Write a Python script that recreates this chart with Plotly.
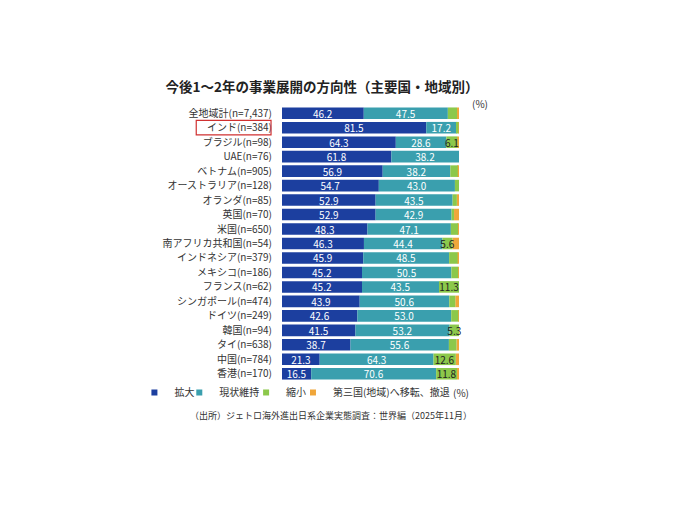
import plotly.graph_objects as go

categories = ["全地域計(n=7,437)", "インド(n=384)", "ブラジル(n=98)", "UAE(n=76)", "ベトナム(n=905)",
              "オーストラリア(n=128)", "オランダ(n=85)", "英国(n=70)", "米国(n=650)", "南アフリカ共和国(n=54)",
              "インドネシア(n=379)", "メキシコ(n=186)", "フランス(n=62)", "シンガポール(n=474)", "ドイツ(n=249)",
              "韓国(n=94)", "タイ(n=638)", "中国(n=784)", "香港(n=170)"]
expand = [46.2, 81.5, 64.3, 61.8, 56.9, 54.7, 52.9, 52.9, 48.3, 46.3, 45.9, 45.2, 45.2, 43.9, 42.6, 41.5, 38.7, 21.3, 16.5]
maintain = [47.5, 17.2, 28.6, 38.2, 38.2, 43.0, 43.5, 42.9, 47.1, 44.4, 48.5, 50.5, 43.5, 50.6, 53.0, 53.2, 55.6, 64.3, 70.6]
shrink = [5.2, 1.0, 6.1, 0.0, 4.2, 2.3, 2.4, 1.4, 4.0, 5.6, 4.8, 3.8, 11.3, 3.4, 4.0, 5.3, 4.3, 12.6, 11.8]
relocate = [1.1, 0.3, 1.0, 0.0, 0.7, 0.0, 1.2, 2.8, 0.6, 3.7, 0.8, 0.5, 0.0, 2.1, 0.4, 0.0, 1.4, 1.8, 1.1]
series_names = ["拡大", "現状維持", "縮小", "第三国(地域)へ移転、撤退"]
title_text = "今後1～2年の事業展開の方向性（主要国・地域別）"
source_text = "（出所）ジェトロ海外進出日系企業実態調査：世界編（2025年11月）"

colors = ["#1c3f9f", "#3a9fae", "#8cc84b", "#f0a63a"]
FONT = "Noto Sans CJK JP"
OFF = 8  # page body margin

W, H = 680, 510
L, R = 282 - OFF, 459.5 - OFF
T, B = 106 - OFF, 381.5 - OFF


def px(xr):
    return (xr - OFF - L) / (R - L)


def py(yr):
    return 1 - (yr - OFF - T) / (B - T)


def labels(vals, minv):
    return [f"{v:.1f}" if v >= minv else "" for v in vals]


series = [expand, maintain, shrink, relocate]
# cumulative bases so that segments stack; drawn in custom order so labels sit on top
bases = []
running = [0.0] * len(categories)
for vals in series:
    bases.append(list(running))
    running = [a + b for a, b in zip(running, vals)]

text_cols = ["white", "white", "#222222", "#222222"]
mins = [1, 1, 5.3, 100]
draw_order = [3, 0, 1, 2]

fig = go.Figure()
for i in draw_order:
    fig.add_trace(go.Bar(
        y=categories, x=series[i], base=bases[i], name=series_names[i], orientation="h",
        marker=dict(color=colors[i], line=dict(width=0)),
        text=labels(series[i], mins[i]), textposition="inside", insidetextanchor="middle",
        constraintext="none", cliponaxis=False,
        textfont=dict(color=text_cols[i], size=10, family=FONT),
        hoverinfo="skip", showlegend=False,
    ))

legend_ids = ["legend", "legend2", "legend3", "legend4"]
legend_square_x = [154, 199, 266, 313]
for name, col, lid in zip(series_names, colors, legend_ids):
    fig.add_trace(go.Scatter(
        x=[None], y=[None], mode="markers", name=name, legend=lid,
        marker=dict(symbol="square", size=6, color=col), hoverinfo="skip", showlegend=True,
    ))

legends = {}
for lid, sx in zip(legend_ids, legend_square_x):
    legends[lid] = dict(orientation="h", x=px(sx - 20), y=py(393), xanchor="left", yanchor="middle",
                        font=dict(size=10, family=FONT, color="#333333"), itemwidth=30,
                        bgcolor="rgba(0,0,0,0)", borderwidth=0)

fig.update_layout(
    width=W, height=H, barmode="overlay", bargap=0.2,
    margin=dict(l=L, r=W - R, t=T, b=H - B, pad=0),
    plot_bgcolor="white", paper_bgcolor="white",
    font=dict(family=FONT, size=10, color="#333333"),
    showlegend=True,
    xaxis=dict(range=[0, 100], visible=False, fixedrange=True),
    yaxis=dict(autorange="reversed", showgrid=False, zeroline=False, showline=False,
               ticks="", ticklabelstandoff=9, tickfont=dict(size=10, family=FONT, color="#333333")),
    title=dict(text=title_text, x=(322 - OFF) / W, xanchor="center", y=1 - (87 - OFF) / H, yanchor="middle",
               font=dict(size=13.5, family=FONT, color="#222222", weight="bold")),
    **legends,
)

ann = [
    dict(text="(%)", x=481, y=103, size=10),
    dict(text="(%)", x=462, y=393, size=10),
    dict(text=source_text, x=331, y=416, size=9),
]
for a in ann:
    fig.add_annotation(text=a["text"], xref="paper", yref="paper",
                       x=px(a["x"]), y=py(a["y"]),
                       xanchor="center", yanchor="middle", showarrow=False,
                       font=dict(size=a["size"], family=FONT, color="#333333"))

fig.add_shape(type="rect", xref="paper", yref="y",
              x0=px(196), x1=px(271), y0=0.5, y1=1.5,
              line=dict(color="#d03030", width=1.2), fillcolor="rgba(0,0,0,0)")

fig.write_html("out.html")
